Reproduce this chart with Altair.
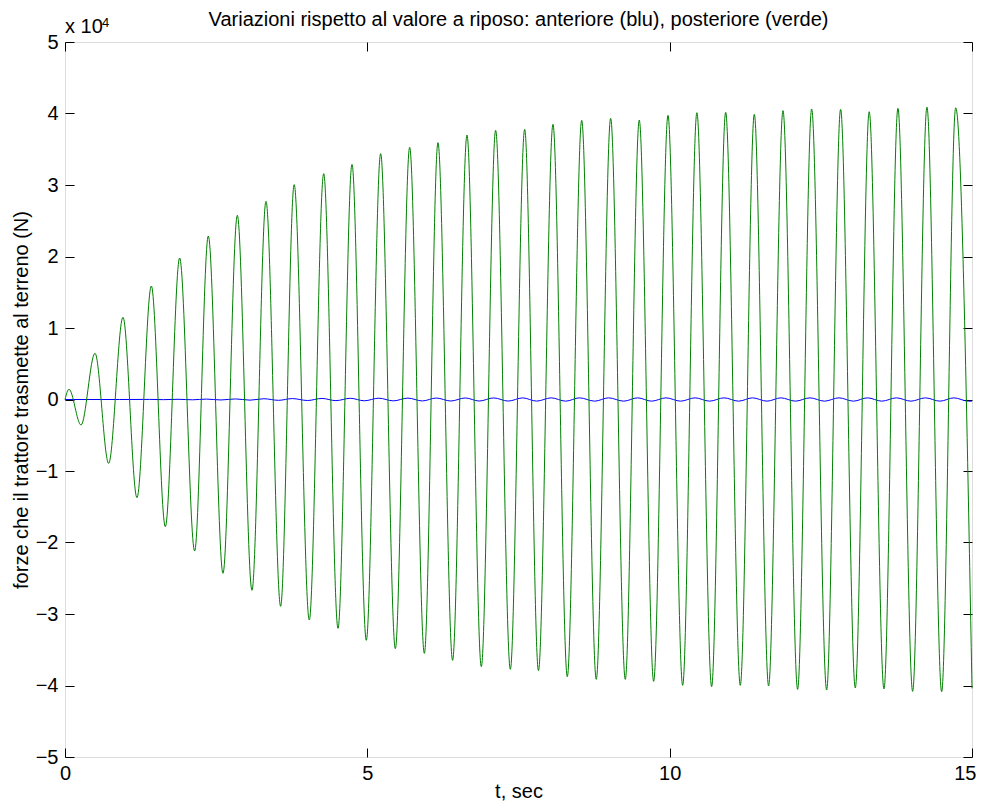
import altair as alt
import pandas as pd

# ---- data (forces in N) ----
# posteriore (verde): start, alternating peaks/troughs, end
green_t = [0.0, 0.066, 0.265, 0.496, 0.722, 0.959, 1.190, 1.428, 1.659, 1.896,
           2.144, 2.370, 2.613, 2.850, 3.092, 3.324, 3.566, 3.790, 4.040, 4.278,
           4.515, 4.746, 4.983, 5.220, 5.463, 5.700, 5.943, 6.168, 6.410, 6.648,
           6.885, 7.122, 7.365, 7.602, 7.830, 8.070, 8.307, 8.545, 8.786, 9.024,
           9.266, 9.497, 9.735, 9.972, 10.215, 10.450, 10.694, 10.926, 11.168, 11.400,
           11.636, 11.874, 12.116, 12.348, 12.596, 12.827, 13.070, 13.300, 13.544, 13.775,
           14.018, 14.255, 14.498, 14.730, 15.0]
green_f = [0, 1430, -3570, 6460, -8930, 11500, -13730, 15870, -17790, 19790,
           -21190, 22870, -24310, 25760, -26690, 27720, -28930, 30050, -30840, 31580,
           -32000, 32890, -33680, 34380, -34850, 35270, -35500, 35920, -36480, 36990,
           -37370, 37650, -37740, 37790, -37930, 38490, -38770, 39050, -39140, 39330,
           -39140, 39090, -39420, 39740, -39980, 40110, -40160, 40160, -39980, 39880,
           -40070, 40400, -40540, 40630, -40630, 40580, -40350, 40250, -40490, 40720,
           -40820, 40900, -40870, 40800, -40400]

# anteriore (blu): small oscillation around zero
blue_t = [0.0, 0.90, 1.40, 1.63, 1.87, 2.11, 2.34, 2.58, 2.82, 3.06,
          3.29, 3.53, 3.76, 4.01, 4.25, 4.48, 4.72, 4.95, 5.19, 5.43,
          5.67, 5.91, 6.14, 6.38, 6.62, 6.85, 7.09, 7.33, 7.57, 7.80,
          8.04, 8.28, 8.51, 8.76, 8.99, 9.24, 9.47, 9.70, 9.94, 10.18,
          10.42, 10.66, 10.90, 11.14, 11.37, 11.61, 11.84, 12.08, 12.32, 12.56,
          12.80, 13.04, 13.27, 13.51, 13.75, 13.99, 14.23, 14.47, 14.70, 14.94, 15.0]
blue_f = [0, 0, 15, -20, 30, -40, 55, -65, 80, -90,
          105, -115, 130, -140, 150, -160, 170, -180, 185, -190,
          195, -200, 205, -210, 215, -215, 220, -220, 225, -225,
          230, -230, 230, -230, 230, -230, 230, -230, 230, -230,
          230, -230, 230, -230, 230, -230, 230, -230, 230, -230,
          230, -230, 230, -230, 230, -230, 230, -230, 230, -230, -220]

x_ticks = [0, 5, 10, 15]
y_ticks = [-50000, -40000, -30000, -20000, -10000, 0, 10000, 20000, 30000, 40000, 50000]

title_text = ["Variazioni rispetto al valore a riposo: anteriore (blu), posteriore (verde)"]
x_title = "t, sec"
y_title = "forze che il trattore trasmette al terreno (N)"
exp_base = ["x 10"]
exp_pow = ["4"]

FONT = "Liberation Sans"
W, H = 907, 715
TICK = 9

df_g = pd.DataFrame({"t": green_t, "f": green_f})
df_b = pd.DataFrame({"t": blue_t, "f": blue_f})

xscale = alt.Scale(domain=[0, 15], nice=False, zero=False)
yscale = alt.Scale(domain=[-50000, 50000], nice=False, zero=False)

common = dict(offset=-TICK, tickSize=TICK, domain=False, grid=False,
              tickColor="black", tickWidth=1, labelFont=FONT, labelFontSize=20,
              labelColor="black", titleFont=FONT, titleFontSize=20,
              titleFontWeight="normal", titleColor="black")

x_bottom = alt.Axis(orient="bottom", values=x_ticks, labelPadding=6, labelFlush=False,
                    labelAlign={"condition": {"test": "datum.value == 15", "value": "right"},
                                "value": "center"},
                    labelOffset={"condition": {"test": "datum.value == 15", "value": 4},
                                 "value": 0},
                    title=x_title, titleX=W / 2, titleY=49, titleBaseline="alphabetic",
                    titleAlign="center", **common)
y_left = alt.Axis(orient="left", values=y_ticks, labelPadding=7,
                  labelExpr="format(datum.value / 10000, 'd')",
                  title=y_title, titleX=-47, titleY=H / 2, titleAngle=270,
                  titleBaseline="alphabetic", titleAlign="center", **common)
x_top = alt.Axis(orient="top", values=x_ticks, labels=False, title=None, **common)
y_right = alt.Axis(orient="right", values=y_ticks, labels=False, title=None, **common)

blue = alt.Chart(df_b).mark_line(color="#0000ff", strokeWidth=1, interpolate="monotone").encode(
    x=alt.X("t:Q", scale=xscale, axis=x_top),
    y=alt.Y("f:Q", scale=yscale, axis=y_right),
)
green = alt.Chart(df_g).mark_line(color="#008000", strokeWidth=1, interpolate="monotone").encode(
    x=alt.X("t:Q", scale=xscale, axis=x_bottom),
    y=alt.Y("f:Q", scale=yscale, axis=y_left),
)

title_txt = alt.Chart(pd.DataFrame({"s": title_text})).mark_text(
    font=FONT, fontSize=20, align="center", baseline="alphabetic", color="black"
).encode(x=alt.value(W / 2), y=alt.value(-16), text="s:N")
base_txt = alt.Chart(pd.DataFrame({"s": exp_base})).mark_text(
    font=FONT, fontSize=20, align="left", baseline="alphabetic", color="black"
).encode(x=alt.value(0), y=alt.value(-9), text="s:N")
pow_txt = alt.Chart(pd.DataFrame({"s": exp_pow})).mark_text(
    font=FONT, fontSize=13, align="left", baseline="alphabetic", color="black"
).encode(x=alt.value(37), y=alt.value(-15), text="s:N")

chart = alt.layer(blue, green, title_txt, base_txt, pow_txt).resolve_scale(
    x="independent", y="independent"
).properties(
    width=W, height=H,
    autosize=alt.AutoSizeParams(type="none"),
    padding={"left": 57, "top": 34, "right": 4, "bottom": 44},
).configure_view(stroke="black", strokeWidth=1).configure(background="white")

chart.save("out.html", embed_options={"renderer": "svg", "actions": False})
